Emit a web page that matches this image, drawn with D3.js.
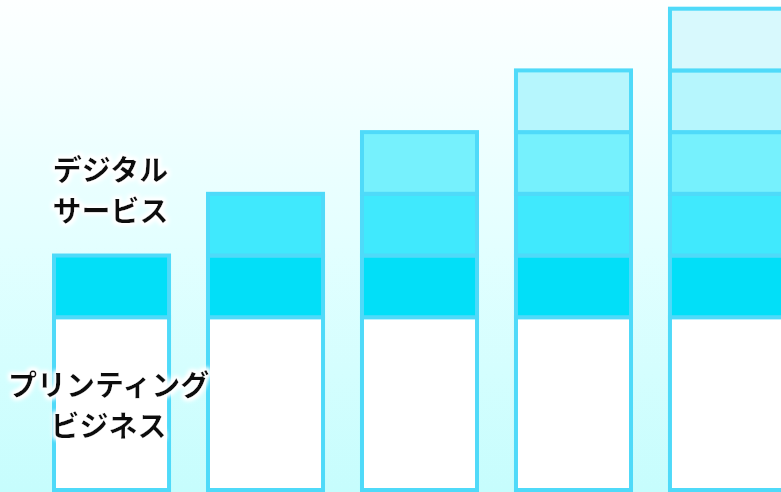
<!DOCTYPE html>
<html>
<head>
<meta charset="utf-8">
<script src="https://cdn.jsdelivr.net/npm/d3@7"></script>
<style>
  html, body { margin: 0; padding: 0; background: #fff; }
  svg { display: block; }
</style>
</head>
<body>
<svg id="chart" width="781" height="492"></svg>
<script>
// ---- data ----
const categories = ["1", "2", "3", "4", "5"];
const printingBusiness = [2.8, 2.8, 2.8, 2.8, 2.8];
const digitalLayer1 = [1, 1, 1, 1, 1];
const digitalLayer2 = [0, 1, 1, 1, 1];
const digitalLayer3 = [0, 0, 1, 1, 1];
const digitalLayer4 = [0, 0, 0, 1, 1];
const digitalLayer5 = [0, 0, 0, 0, 1];
const seriesKeys = ["printing", "d1", "d2", "d3", "d4", "d5"];
const seriesColors = ["#ffffff", "#02dff8", "#40e9fd", "#76f1fd", "#b6f6fd", "#d8f9fd"];
const digitalLabel = ["デジタル", "サービス"];
const printingLabel = ["プリンティング", "ビジネス"];

const W = 781, H = 492;
const svg = d3.select("#chart");

// background gradient
const defs = svg.append("defs");
const grad = defs.append("linearGradient").attr("id", "bg")
  .attr("x1", 0).attr("y1", 0).attr("x2", 0).attr("y2", 1);
grad.append("stop").attr("offset", "0%").attr("stop-color", "#fdffff");
grad.append("stop").attr("offset", "50%").attr("stop-color", "#e3ffff");
grad.append("stop").attr("offset", "100%").attr("stop-color", "#c6fdfd");
svg.append("rect").attr("width", W).attr("height", H).attr("fill", "url(#bg)");

// glow filter for labels
const f = defs.append("filter").attr("id", "glow")
  .attr("x", "-20%").attr("y", "-40%").attr("width", "140%").attr("height", "180%");
f.append("feMorphology").attr("in", "SourceAlpha").attr("operator", "dilate").attr("radius", 2).attr("result", "d");
f.append("feGaussianBlur").attr("in", "d").attr("stdDeviation", 2).attr("result", "b");
f.append("feFlood").attr("flood-color", "#ffffff").attr("result", "c");
f.append("feComposite").attr("in", "c").attr("in2", "b").attr("operator", "in").attr("result", "g");
const fm = f.append("feMerge");
fm.append("feMergeNode").attr("in", "g");
fm.append("feMergeNode").attr("in", "g");
fm.append("feMergeNode").attr("in", "SourceGraphic");

// table
const table = categories.map((c, i) => ({
  cat: c,
  printing: printingBusiness[i],
  d1: digitalLayer1[i], d2: digitalLayer2[i], d3: digitalLayer3[i],
  d4: digitalLayer4[i], d5: digitalLayer5[i]
}));
const stacked = d3.stack().keys(seriesKeys)(table);

const x = d3.scaleBand().domain(categories).range([54, 785]).paddingInner(0.253).paddingOuter(0);
const y = d3.scaleLinear().domain([0, 7.8]).range([490, 8.7]);
const color = d3.scaleOrdinal().domain(seriesKeys).range(seriesColors);

const g = svg.append("g");
stacked.forEach(layer => {
  g.selectAll(null)
    .data(layer.filter(d => d[1] - d[0] > 0))
    .enter().append("rect")
    .attr("x", d => x(d.data.cat))
    .attr("y", d => y(d[1]))
    .attr("width", x.bandwidth())
    .attr("height", d => y(d[0]) - y(d[1]))
    .attr("fill", color(layer.key))
    .attr("stroke", "#4fdaf9")
    .attr("stroke-width", 4);
});

// labels
const cx = x(categories[0]) + x.bandwidth() / 2 - 1;
const lab = svg.append("g")
  .attr("font-family", "'Noto Sans CJK JP', 'Noto Sans', sans-serif")
  .attr("font-size", 29)
  .attr("font-weight", 700)
  .attr("fill", "#111111")
  .attr("text-anchor", "middle")
  .attr("filter", "url(#glow)");
const dBase = y(printingBusiness[0] + digitalLayer1[0]) - 75;
digitalLabel.forEach((t, i) => {
  lab.append("text").attr("x", cx).attr("y", dBase + i * 41).text(t);
});
const pBase = y(printingBusiness[0]) + 79;
printingLabel.forEach((t, i) => {
  lab.append("text").attr("x", cx - 2).attr("y", pBase + i * 41).text(t);
});
</script>
</body>
</html>
